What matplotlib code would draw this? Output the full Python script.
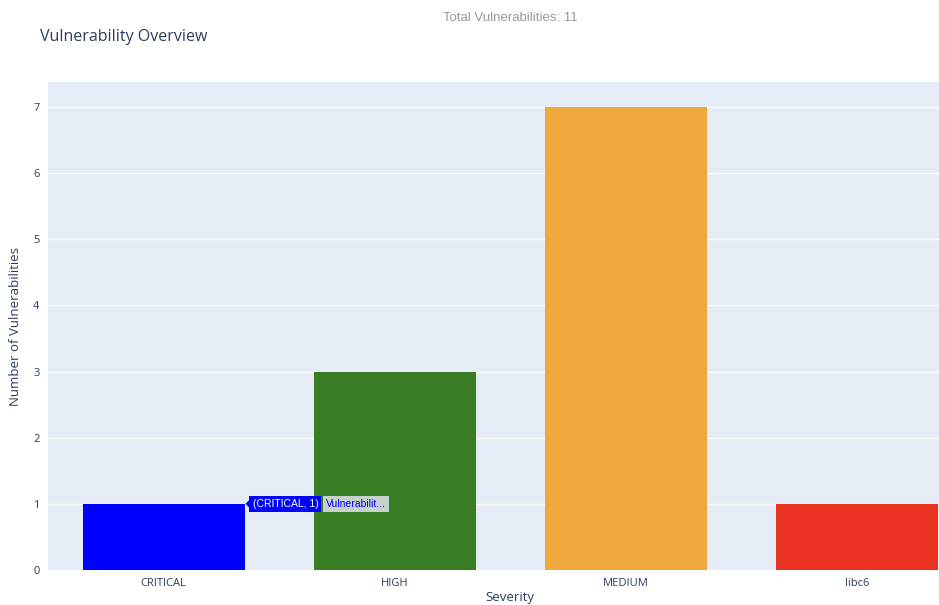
import matplotlib.pyplot as plt
from matplotlib.patches import Polygon

# Data
severities = ["CRITICAL", "HIGH", "MEDIUM", "libc6"]
counts = [1, 3, 7, 1]
colors = ["#0000ff", "#387c23", "#f0a93c", "#ea3323"]
total = 11

plt.rcParams['font.family'] = ['Open Sans', 'DejaVu Sans']

fig = plt.figure(figsize=(9.39, 6.05), dpi=100)
ax = fig.add_axes([48 / 939, 35 / 605, 891 / 939, 488 / 605])
ax.set_facecolor("#e5ecf6")

x = list(range(len(severities)))
ax.bar(x, counts, width=0.7, color=colors, zorder=2)

ax.set_xlim(-0.5, 3.353)
ax.set_ylim(0, 7.378)
ax.set_yticks(range(0, 8))
ax.set_xticks(x)
ax.set_xticklabels(severities)
ax.grid(axis="y", color="white", linewidth=1, zorder=1)
ax.tick_params(length=0, labelsize=8, colors="#2a3f5f", pad=6)
for s in ax.spines.values():
    s.set_visible(False)

# axis titles placed in figure pixels so they stay inside the canvas
fig.text(510 / 939, 1 - 598 / 605, "Severity", fontsize=9.5,
         color="#2a3f5f", va="center", ha="center")
fig.text(16 / 939, 1 - 326 / 605, "Number of Vulnerabilities", fontsize=9.5,
         color="#2a3f5f", va="center", ha="center", rotation=90)

fig.text(40 / 939, 1 - 37 / 605, "Vulnerability Overview", fontsize=11.5,
         color="#2a3f5f", va="center", ha="left")
fig.text(510 / 939, 1 - 18 / 605, f"Total Vulnerabilities: {total}", fontsize=9.5,
         color="#999999", va="center", ha="center", family="Liberation Sans")

# hover label on the CRITICAL bar
tip_x = 0 + 0.35
tip_y = counts[0]
dx = 231.0  # px per category unit
ax.add_patch(Polygon([[tip_x + 1 / dx, tip_y], [tip_x + 6 / dx, tip_y + 0.08],
                      [tip_x + 6 / dx, tip_y - 0.08]], closed=True,
                     facecolor="#0000ff", edgecolor="none", zorder=5, clip_on=False))
ax.text(tip_x + 8 / dx, tip_y, "(CRITICAL, 1)", fontsize=7.5, color="white",
        va="center", ha="left", zorder=6, family="Liberation Sans",
        bbox=dict(boxstyle="square,pad=0.3", facecolor="#0000ff", edgecolor="none"))
ax.text(tip_x + 81 / dx, tip_y, "Vulnerabilit...", fontsize=7.5, color="#0000ff",
        va="center", ha="left", zorder=6, family="Liberation Sans",
        bbox=dict(boxstyle="square,pad=0.3", facecolor="#c8d2cc", edgecolor="none"))

plt.savefig("out.png", dpi=100)
